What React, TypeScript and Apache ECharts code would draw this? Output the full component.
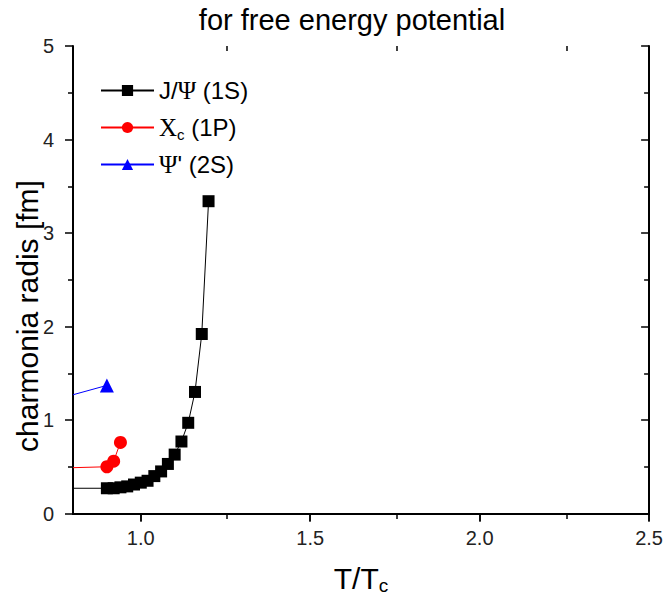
import React, { useEffect, useRef } from "react";
import * as echarts from "echarts";

// J/Psi (1S): first entry is the line's entry point at the left axis (no marker)
const jpsiT = [0.8, 0.9, 0.92, 0.94, 0.96, 0.98, 1.0, 1.02, 1.04, 1.06, 1.08, 1.1, 1.12, 1.14, 1.16, 1.18, 1.2];
const jpsiR = [0.27, 0.27, 0.27, 0.28, 0.29, 0.31, 0.33, 0.35, 0.4, 0.45, 0.53, 0.63, 0.77, 0.97, 1.3, 1.92, 3.34];
// Chi_c (1P)
const chiT = [0.8, 0.9, 0.92, 0.94];
const chiR = [0.49, 0.5, 0.56, 0.76];
// Psi' (2S)
const psiT = [0.8, 0.9];
const psiR = [1.27, 1.37];

const xMajorTicks = [1.0, 1.5, 2.0, 2.5];
const xMinorTicks = [1.25, 1.75, 2.25];

const FONT = "'Liberation Sans', Arial, sans-serif";
const SERIF = "'Liberation Serif', 'DejaVu Serif', serif";

function build(T: number[], R: number[]) {
  return T.map((t, i) =>
    i === 0 ? { value: [t, R[i]], symbol: "none" } : { value: [t, R[i]] }
  );
}

export default function App() {
  const ref = useRef<HTMLDivElement>(null);
  useEffect(() => {
    if (!ref.current) return;
    const chart = echarts.init(ref.current, null, { renderer: "svg" });
    const axisLine = { show: true, lineStyle: { color: "#000", width: 2 } };
    const grid = { left: 73, right: 14, top: 46, bottom: 86 };
    chart.setOption({
      animation: false,
      backgroundColor: "#fff",
      textStyle: { fontFamily: FONT },
      title: {
        text: "for free energy potential",
        left: 347,
        textAlign: "center",
        top: 0,
        textStyle: { fontFamily: FONT, fontSize: 29, fontWeight: "normal", color: "#000" },
      },
      graphic: [
        {
          type: "text",
          x: 27,
          y: 316,
          rotation: Math.PI / 2,
          style: {
            text: "charmonia radis [fm]",
            fontFamily: FONT,
            fontSize: 30,
            fill: "#000",
            align: "center",
            verticalAlign: "middle",
          },
        },
      ],
      grid: [grid, grid],
      legend: {
        orient: "vertical",
        left: 95,
        top: 73,
        itemWidth: 53,
        itemHeight: 14,
        itemGap: 10,
        data: ["jpsi", "chi", "psi"],
        formatter: (name: string) => {
          if (name === "jpsi") return "{a|J/}{g|Ψ}{a| (1S)}";
          if (name === "chi") return "{g|Χ}{sub|c}{a| (1P)}";
          return "{g|Ψ}{a|' (2S)}";
        },
        textStyle: {
          color: "#000",
          rich: {
            a: { fontFamily: FONT, fontSize: 24, color: "#000", lineHeight: 26 },
            g: { fontFamily: SERIF, fontSize: 25, color: "#000", lineHeight: 26 },
            sub: { fontFamily: FONT, fontSize: 15, color: "#000", lineHeight: 26, padding: [14, 0, 0, 0] },
          },
        },
      },
      xAxis: [
        {
          type: "value",
          gridIndex: 0,
          position: "bottom",
          min: 0.8,
          max: 2.5,
          axisLine,
          splitLine: { show: false },
          axisTick: { show: true, inside: false, length: 8, customValues: xMajorTicks, lineStyle: { color: "#000", width: 1.5 } },
          axisLabel: {
            show: true,
            customValues: xMajorTicks,
            formatter: (v: number) => v.toFixed(1),
            fontFamily: FONT,
            fontSize: 20,
            color: "#222",
            margin: 14,
          },
          name: "{a|T/T}{sub|c}",
          nameLocation: "middle",
          nameGap: 48,
          nameTextStyle: {
            rich: {
              a: { fontFamily: FONT, fontSize: 30, color: "#000", lineHeight: 34 },
              sub: { fontFamily: FONT, fontSize: 19, color: "#000", lineHeight: 34, padding: [14, 0, 0, 0] },
            },
          },
        },
        {
          type: "value",
          gridIndex: 0,
          position: "top",
          min: 0.8,
          max: 2.5,
          axisLine,
          splitLine: { show: false },
          axisTick: { show: true, inside: true, length: 8, customValues: xMajorTicks, lineStyle: { color: "#000", width: 1.5 } },
          axisLabel: { show: false },
        },
        {
          type: "value",
          gridIndex: 1,
          position: "bottom",
          min: 0.8,
          max: 2.5,
          axisLine: { show: false },
          splitLine: { show: false },
          axisTick: { show: true, inside: false, length: 5, customValues: xMinorTicks, lineStyle: { color: "#000", width: 1.5 } },
          axisLabel: { show: false },
        },
        {
          type: "value",
          gridIndex: 1,
          position: "top",
          min: 0.8,
          max: 2.5,
          axisLine: { show: false },
          splitLine: { show: false },
          axisTick: { show: true, inside: true, length: 5, customValues: xMinorTicks, lineStyle: { color: "#000", width: 1.5 } },
          axisLabel: { show: false },
        },
      ],
      yAxis: [
        {
          type: "value",
          gridIndex: 0,
          position: "left",
          min: 0,
          max: 5,
          interval: 1,
          axisLine,
          splitLine: { show: false },
          axisTick: { show: true, inside: false, length: 8, lineStyle: { color: "#000", width: 1.5 } },
          minorTick: { show: true, splitNumber: 2, length: 5, lineStyle: { color: "#000", width: 1.5 } },
          minorSplitLine: { show: false },
          axisLabel: { fontFamily: FONT, fontSize: 20, color: "#222", margin: 19 },
        },
        {
          type: "value",
          gridIndex: 0,
          position: "right",
          min: 0,
          max: 5,
          interval: 1,
          axisLine,
          splitLine: { show: false },
          axisTick: { show: true, inside: true, length: 8, lineStyle: { color: "#000", width: 1.5 } },
          minorTick: { show: true, splitNumber: 2, length: 5, lineStyle: { color: "#000", width: 1.5 } },
          minorSplitLine: { show: false },
          axisLabel: { show: false },
        },
        {
          type: "value",
          gridIndex: 1,
          min: 0,
          max: 5,
          show: false,
        },
      ],
      series: [
        {
          name: "jpsi",
          type: "line",
          xAxisIndex: 0,
          yAxisIndex: 0,
          data: build(jpsiT, jpsiR),
          symbol: "rect",
          symbolSize: 12,
          lineStyle: { color: "#000", width: 1 },
          itemStyle: { color: "#000" },
        },
        {
          name: "chi",
          type: "line",
          xAxisIndex: 0,
          yAxisIndex: 0,
          data: build(chiT, chiR),
          symbol: "circle",
          symbolSize: 13,
          lineStyle: { color: "#ff0000", width: 1 },
          itemStyle: { color: "#ff0000" },
        },
        {
          name: "psi",
          type: "line",
          xAxisIndex: 0,
          yAxisIndex: 0,
          data: build(psiT, psiR),
          symbol: "triangle",
          symbolSize: 14,
          lineStyle: { color: "#0000ff", width: 1 },
          itemStyle: { color: "#0000ff" },
        },
      ],
    });
    return () => chart.dispose();
  }, []);
  return (
    <div
      ref={ref}
      style={{ position: "fixed", left: 0, top: 0, width: 666, height: 600, background: "#fff" }}
    />
  );
}
